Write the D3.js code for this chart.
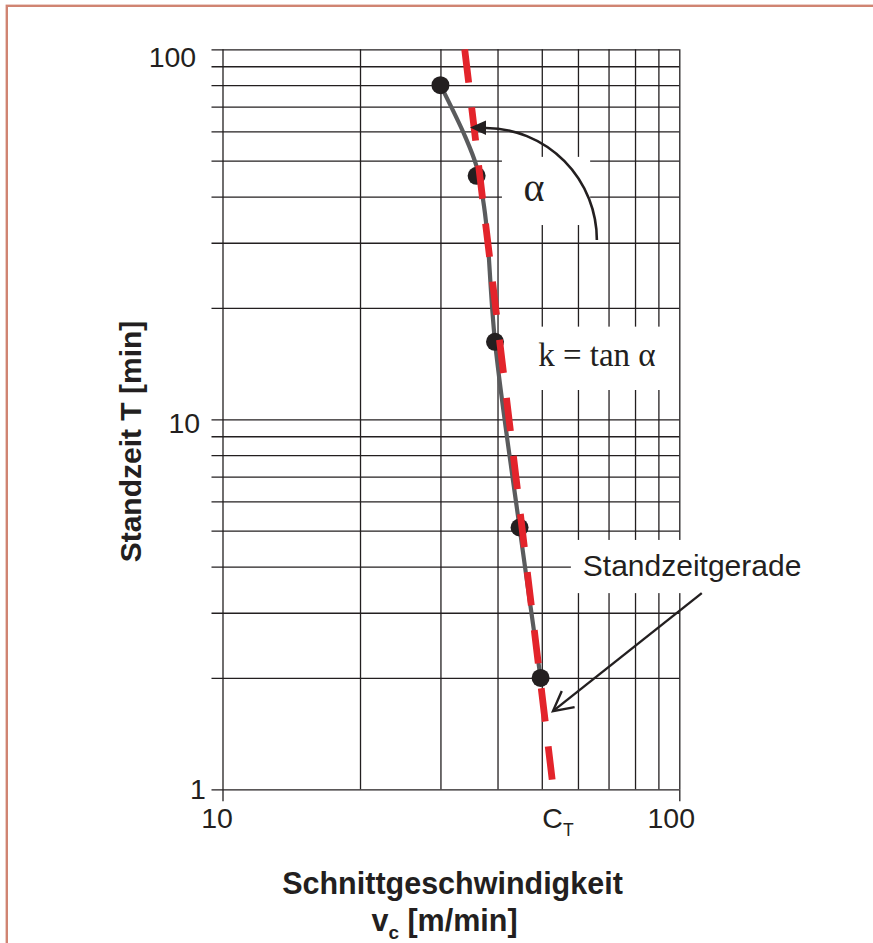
<!DOCTYPE html>
<html><head><meta charset="utf-8">
<script src="https://cdn.jsdelivr.net/npm/d3@7"></script>
<style>body{margin:0;background:#fff}svg{display:block}</style>
</head><body>
<svg id="chart" width="873" height="943"></svg>
<script>
// ---- data ----
const speedTicks = [10,20,30,40,50,60,70,80,90,100];
const lifeTicks = [1,2,3,4,5,6,7,8,9,10,20,30,40,50,60,70,80,90,100];
const speedLabels = [10,100];
const lifeLabels = [1,10,100];
const measuredSpeed = [30,36,39.5,44.7,49.7];
const measuredLife = [80,45.5,16.2,5.1,2.0];
const curveSpeed = [30,34,36,37.2,37.9,39.5,44.7,49.7];
const curveLife = [80,58,48.2,39.1,32.5,16.2,5.1,2.0];
const taylorSpeed = [33.9,53];
const taylorLife = [100,1];
const CT = 53;

// ---- setup ----
const ink = "#231f20";
const svg = d3.select("#chart");
const x = d3.scaleLog().domain([10,100]).range([222.5,679.3]);
const y = d3.scaleLog().domain([1,100]).range([789.3,49.3]);
const sans = "'Liberation Sans', Arial, sans-serif";
const serif = "'Liberation Serif', 'Times New Roman', serif";

// frame
svg.append("rect").attr("x",6.8).attr("y",5.8).attr("width",1000).attr("height",1000)
  .attr("fill","none").attr("stroke","#d08472").attr("stroke-width",2.4);

// horizontal grid
const leftX = 211.5;
const gy = svg.append("g").attr("transform",`translate(${leftX},0)`)
  .call(d3.axisLeft(y).tickValues(lifeTicks).tickSize(-(x.range()[1]-leftX)).tickFormat(""));
gy.select(".domain").remove();
gy.selectAll(".tick line").attr("stroke",ink).attr("stroke-width",1.3);

// vertical grid
const gx = svg.append("g").attr("transform",`translate(0,${y(1)})`)
  .call(d3.axisBottom(x).tickValues(speedTicks).tickSize(-(y(1)-y(100))).tickFormat(""));
gx.select(".domain").remove();
gx.selectAll(".tick line").attr("stroke",ink).attr("stroke-width",1.3);

// major x ticks extend below
const gx2 = svg.append("g").attr("transform",`translate(0,${y(1)})`)
  .call(d3.axisBottom(x).tickValues(speedLabels).tickSize(12).tickFormat(""));
gx2.select(".domain").remove();
gx2.selectAll(".tick line").attr("stroke",ink).attr("stroke-width",1.3);

// y labels
const yLabAnchor = {100:-15.3, 10:-11.3, 1:-5.7};
const yLabBase = {100:17.2, 10:14, 1:9.5};
svg.append("g").selectAll("text").data(lifeLabels).join("text")
  .attr("x", d => leftX + yLabAnchor[d]).attr("y", d => y(d) + yLabBase[d])
  .attr("text-anchor","end").attr("font-family",sans).attr("font-size",28.5).attr("fill",ink)
  .text(d => d3.format("d")(d));

// x labels
const xLabDx = {10:-5.4, 100:-8};
svg.append("g").selectAll("text").data(speedLabels).join("text")
  .attr("x", d => x(d) + xLabDx[d]).attr("y", 828)
  .attr("text-anchor","middle").attr("font-family",sans).attr("font-size",28.5).attr("fill",ink)
  .text(d => d3.format("d")(d));
const ct = svg.append("text").attr("x", x(CT) - 11).attr("y",828)
  .attr("font-family",sans).attr("font-size",28.5).attr("fill",ink);
ct.append("tspan").text("C");
ct.append("tspan").attr("font-size",17.5).attr("dy",7.5).text("T");

// axis titles
svg.append("text").attr("transform","translate(141,441.5) rotate(-90)")
  .attr("text-anchor","middle").attr("font-family",sans).attr("font-weight","bold")
  .attr("font-size",30).attr("fill",ink).text("Standzeit T [min]");
svg.append("text").attr("x",452.5).attr("y",894).attr("text-anchor","middle")
  .attr("font-family",sans).attr("font-weight","bold").attr("font-size",30.5).attr("fill",ink)
  .text("Schnittgeschwindigkeit");
const t2 = svg.append("text").attr("x",444.5).attr("y",931).attr("text-anchor","middle")
  .attr("font-family",sans).attr("font-weight","bold").attr("font-size",30.5).attr("fill",ink);
t2.append("tspan").text("v");
t2.append("tspan").attr("font-size",19).attr("dy",7.5).text("c");
t2.append("tspan").attr("dy",-7.5).text(" [m/min]");

// annotation white boxes (data coordinates)
const boxes = [
  {v0:40.9, v1:63.8, t0:51.2, t1:33.5},
  {v0:45.9, v1:96.4, t0:17.8, t1:12.0},
  {v0:57.9, v1:203, t0:4.72, t1:3.39}
];
svg.append("g").selectAll("rect").data(boxes).join("rect")
  .attr("x", d => x(d.v0)).attr("y", d => y(d.t0))
  .attr("width", d => x(d.v1)-x(d.v0)).attr("height", d => y(d.t1)-y(d.t0))
  .attr("fill","#fff");

// grey measured curve
const curveData = curveSpeed.map((v,i)=>({v, t:curveLife[i]}));
svg.append("path").datum(curveData)
  .attr("d", d3.line().x(d=>x(d.v)).y(d=>y(d.t)).curve(d3.curveCatmullRom.alpha(0.5)))
  .attr("fill","none").attr("stroke","#5a5b5d").attr("stroke-width",4.2).attr("stroke-linejoin","round");

// dots
const pts = measuredSpeed.map((v,i)=>({v, t:measuredLife[i]}));
svg.append("g").selectAll("circle").data(pts).join("circle")
  .attr("cx", d=>x(d.v)).attr("cy", d=>y(d.t)).attr("r",9).attr("fill",ink);

// red Taylor line
const taylor = taylorSpeed.map((v,i)=>({v, t:taylorLife[i]}));
svg.append("path").datum(taylor)
  .attr("d", d3.line().x(d=>x(d.v)).y(d=>y(d.t)))
  .attr("fill","none").attr("stroke","#e3242b").attr("stroke-width",6.8)
  .attr("stroke-dasharray","33.5 25");

// alpha arc arrow
const arcC = {v:37.55, t:30.5}, arcE = {v:66.0}, arcN = {t:61.3};
const cx = x(arcC.v), cy = y(arcC.t);
const rx = x(arcE.v)-cx, ry = cy - y(arcN.t);
svg.append("path").attr("d",`M${cx+rx},${cy} A${rx},${ry} 0 0 0 ${cx+1},${cy-ry}`)
  .attr("fill","none").attr("stroke",ink).attr("stroke-width",2.6);
svg.append("path").attr("d",`M${cx+1},${cy-ry-7.5} L${cx-15},${cy-ry-0.5} L${cx+1},${cy-ry+7} Z`)
  .attr("fill",ink);

// alpha label
svg.append("text").attr("x", x(48.1)).attr("y", y(38.9)).attr("text-anchor","middle")
  .attr("font-family",serif).attr("font-size",40).attr("fill",ink).text("α");
// k = tan alpha
svg.append("text").attr("x", x(49.1)).attr("y", y(13.9))
  .attr("font-family",serif).attr("font-size",33).attr("fill",ink).text("k = tan α");
// Standzeitgerade label
svg.append("text").attr("x", x(61.5)).attr("y", y(3.77))
  .attr("font-family",sans).attr("font-size",30).attr("fill",ink).text("Standzeitgerade");

// arrow to line
const tail = [x(112), y(3.39)], tip = [x(52.9), y(1.627)];
svg.append("line").attr("x1",tail[0]).attr("y1",tail[1]).attr("x2",tip[0]).attr("y2",tip[1])
  .attr("stroke",ink).attr("stroke-width",2.4);
const ang = Math.atan2(tail[1]-tip[1], tail[0]-tip[0]);
const spread = 28*Math.PI/180, arm = 22;
const a1 = [tip[0]+arm*Math.cos(ang-spread), tip[1]+arm*Math.sin(ang-spread)];
const a2 = [tip[0]+arm*Math.cos(ang+spread), tip[1]+arm*Math.sin(ang+spread)];
svg.append("path").attr("d",`M${a1[0]},${a1[1]} L${tip[0]},${tip[1]} L${a2[0]},${a2[1]}`)
  .attr("fill","none").attr("stroke",ink).attr("stroke-width",2.4).attr("stroke-linejoin","miter");
</script>
</body></html>
